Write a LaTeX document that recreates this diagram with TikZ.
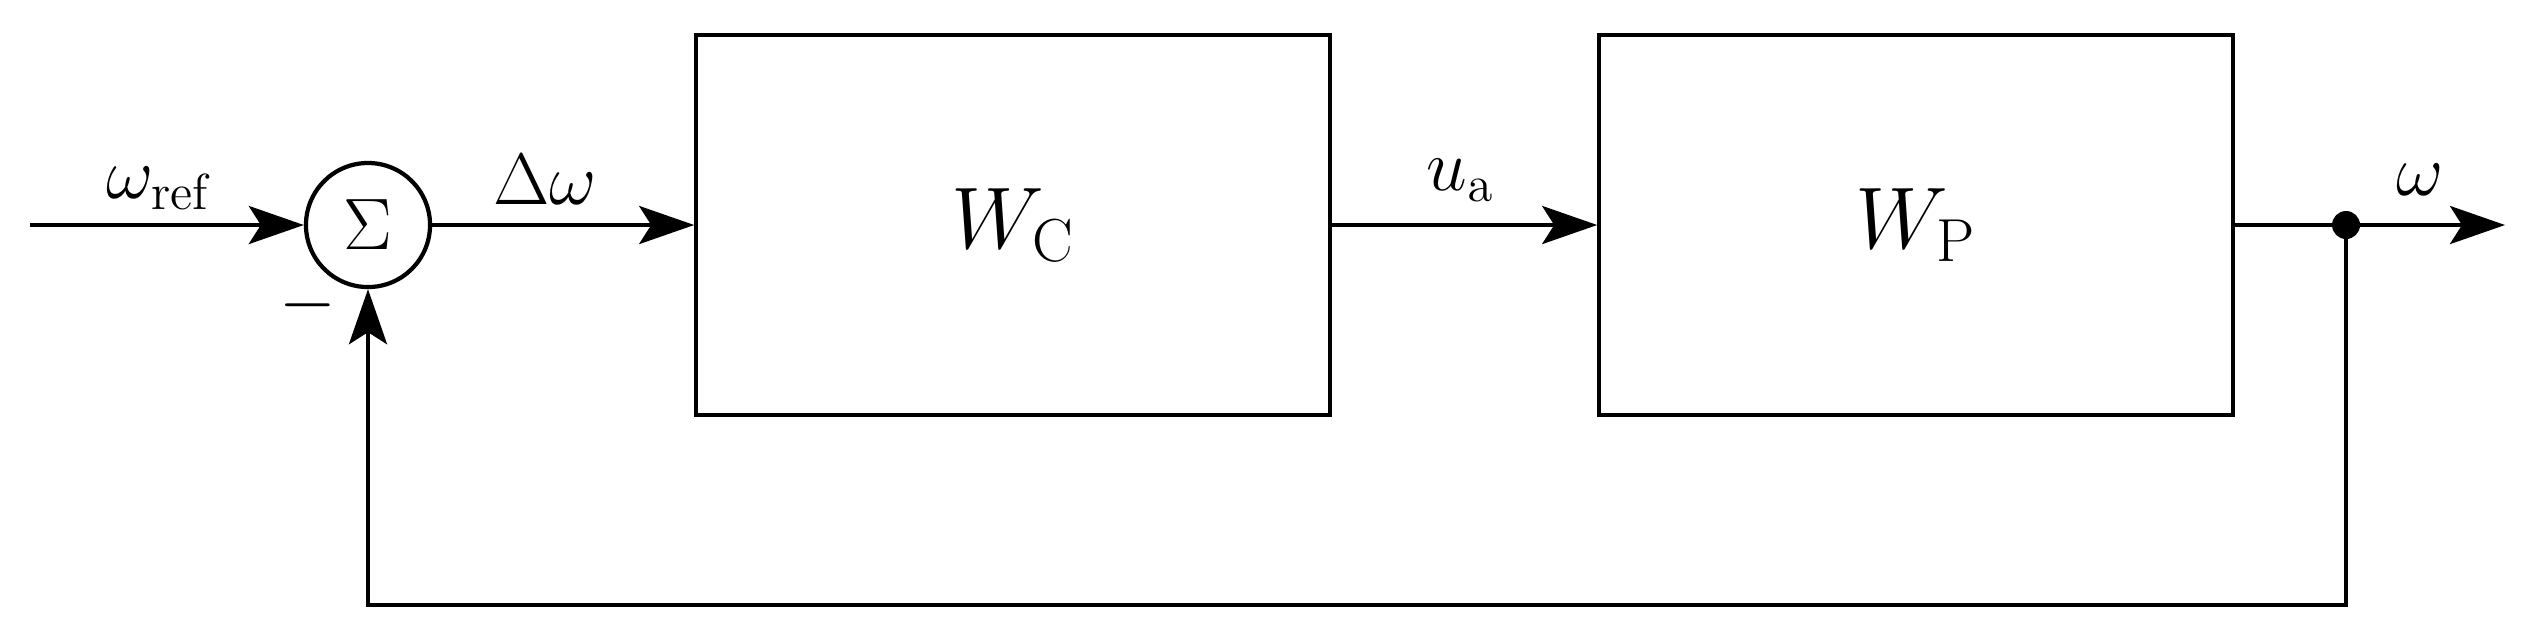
\documentclass[tikz,border=0pt]{standalone}
\usetikzlibrary{arrows.meta}
\begin{document}
\begin{tikzpicture}[x=0.01cm,y=-0.01cm,
  line width=1.2pt,
  arr/.style={-{Stealth[length=0.55cm,width=0.38cm,inset=0.12cm]}},
  blk/.style={draw,minimum width=6.33cm,minimum height=3.8cm,inner sep=0pt,font=\fontsize{26}{30}\selectfont},
  lbl/.style={font=\fontsize{21}{25}\selectfont}]
\useasboundingbox (0,0) rectangle (2522,635);
\coordinate (in) at (30,225);
\node[draw,circle,minimum size=1.24cm,inner sep=0pt,font=\fontsize{21}{25}\selectfont] (sum) at (368,225) {$\Sigma$};
\node[blk] (C) at (1013,225) {$W_{\mathrm{C}}$};
\node[blk] (P) at (1916,225) {$W_{\mathrm{P}}$};
\coordinate (dot) at (2346,225);
\coordinate (out) at (2505,225);
\coordinate (fb1) at (2346,605);
\coordinate (fb2) at (368,605);
\draw[arr] (in) -- (sum);
\draw[arr] (sum) -- (C);
\draw[arr] (C) -- (P);
\draw (P.east) -- (dot);
\draw[arr] (dot) -- (out);
\fill (dot) circle (0.14cm);
\draw[arr] (dot) -- (fb1) -- (fb2) -- (sum.south);
\node[lbl] (l1) at (160,188) {$\omega_{\mathrm{ref}}$};
\node[lbl] (l2) at (545,180) {$\Delta\omega$};
\node[lbl] (l3) at (1460,180) {$u_{\mathrm{a}}$};
\node[lbl] (l4) at (2420,180) {$\omega$};
\node[lbl] (l5) at (308,305) {$-$};
\end{tikzpicture}
\end{document}
